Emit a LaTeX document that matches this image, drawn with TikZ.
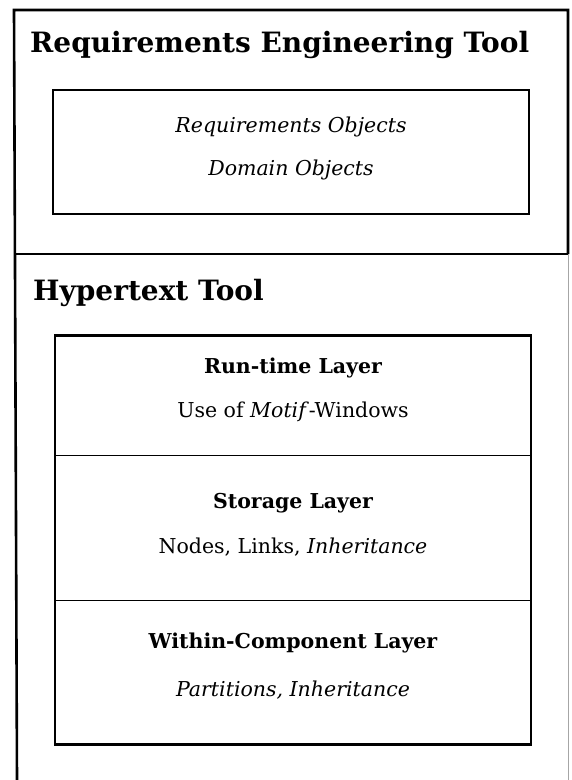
\documentclass[tikz,border=0pt]{standalone}
\usepackage{fontspec}
\setmainfont{DejaVu Serif}
\begin{document}
\begin{tikzpicture}[x=1pt,y=-1pt,
    frame/.style={line width=2.6pt},
    objbox/.style={draw,line width=2.2pt,minimum width=476pt,minimum height=124pt,inner sep=0pt},
    layer/.style={draw,line width=1pt,minimum width=475pt,inner sep=0pt},
    toolname/.style={font=\bfseries\fontsize{28}{34}\selectfont,anchor=base west,inner sep=0pt},
    body/.style={font=\fontsize{20.5}{25}\selectfont,inner sep=0pt}]
    \useasboundingbox (0,0) rectangle (571,780);
    % outer frame, open at the bottom
    \coordinate (tl) at (14,10);
    \coordinate (tr) at (568,10);
    \coordinate (bl) at (17,780);
    \coordinate (br) at (568,780);
    \coordinate (ml) at (14,254);
    \coordinate (mr) at (568,254);
    \draw[frame] (bl) -- (tl) -- (tr) -- (mr);
    \draw[frame] (ml) -- (mr);
    \draw[black!35,line width=1pt] (mr) -- (br);
    % requirements engineering tool
    \node[toolname] (reTool) at (30,52) {Requirements Engineering Tool};
    \node[objbox] (reBox) at (291,152) {};
    \node[body,font=\itshape\fontsize{20.5}{25}\selectfont] (reqObj) at (291,127) {Requirements Objects};
    \node[body,font=\itshape\fontsize{20.5}{25}\selectfont] (domObj) at (291,170) {Domain Objects};
    % hypertext tool
    \node[toolname] (hyTool) at (33,300) {Hypertext Tool};
    \node[layer,minimum height=119pt] (runLayer) at (293,395.5) {};
    \node[layer,minimum height=145pt] (storLayer) at (293,527.5) {};
    \node[layer,minimum height=144pt] (compLayer) at (293,672) {};
    \draw[line width=2.2pt] (runLayer.north west) rectangle (compLayer.south east);
    \node[body,font=\bfseries\fontsize{20.5}{25}\selectfont] (runTitle) at (293,368) {Run-time Layer};
    \node[body] (runText) at (293,412) {Use of \textit{Motif}-Windows};
    \node[body,font=\bfseries\fontsize{20.5}{25}\selectfont] (storTitle) at (293,503) {Storage Layer};
    \node[body] (storText) at (293,547) {Nodes, Links, \textit{Inheritance}};
    \node[body,font=\bfseries\fontsize{20.5}{25}\selectfont] (compTitle) at (293,643) {Within-Component Layer};
    \node[body,font=\itshape\fontsize{20.5}{25}\selectfont] (compText) at (293,690) {Partitions, Inheritance};
\end{tikzpicture}
\end{document}
